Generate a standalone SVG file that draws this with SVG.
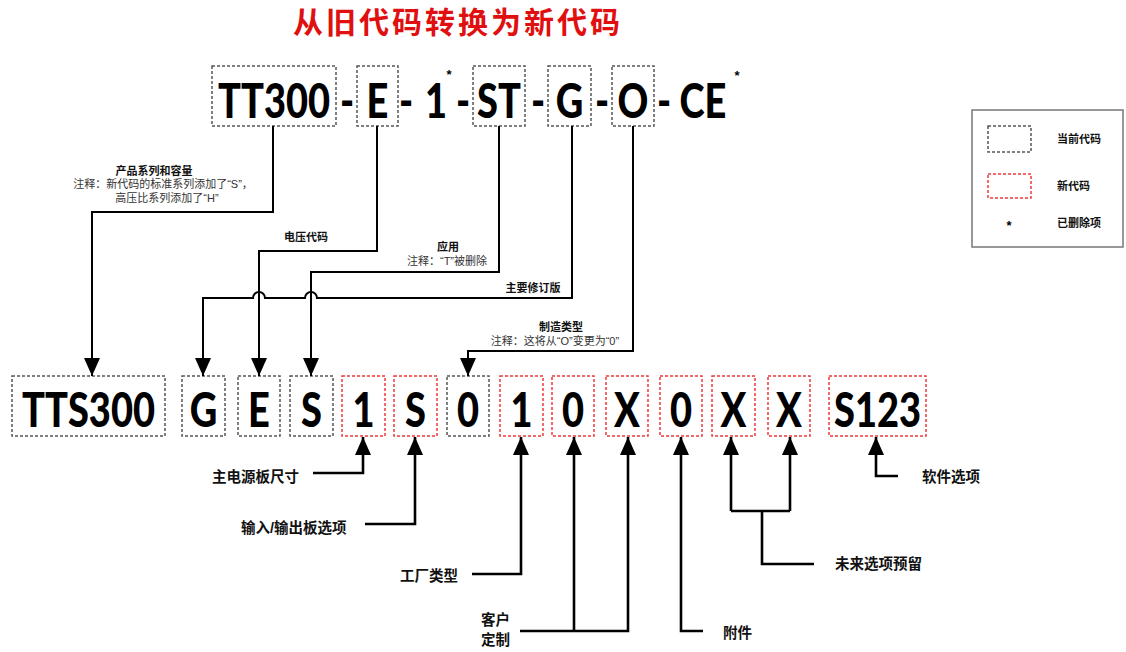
<svg xmlns="http://www.w3.org/2000/svg" width="1126" height="652" viewBox="0 0 1126 652">
<style>
.bg{fill:#fff}
.old{fill:none;stroke:#555;stroke-width:1.5;stroke-dasharray:3 2}
.new{fill:none;stroke:#f03a3a;stroke-width:1.5;stroke-dasharray:3 2}
.code{font-family:Lato,"Open Sans","Liberation Sans",sans-serif;font-weight:900;font-size:38px;fill:#000;text-anchor:middle}
.title{font-family:"Noto Sans CJK SC",sans-serif;font-weight:bold;font-size:30px;fill:#e01010;letter-spacing:3px;text-anchor:middle}
.lbl{font-family:"Liberation Sans","Noto Sans CJK SC",sans-serif;font-weight:bold;font-size:11px;fill:#111;text-anchor:middle}
.lgd{font-family:"Liberation Sans","Noto Sans CJK SC",sans-serif;font-weight:bold;font-size:11px;fill:#111}
.note{font-family:"Liberation Sans","Noto Sans CJK SC",sans-serif;font-size:11px;fill:#333;text-anchor:middle}
.blbl{font-family:"Liberation Sans","Noto Sans CJK SC",sans-serif;font-weight:bold;font-size:14.5px;fill:#111}
.ast{font-family:"Liberation Sans",sans-serif;font-weight:bold;font-size:13px;fill:#000;text-anchor:middle}
.c1{fill:none;stroke:#000;stroke-width:2}
.c2{fill:none;stroke:#000;stroke-width:2.6}
</style>
<defs>
<marker id="ah" viewBox="0 0 18 16" refX="18" refY="8" markerWidth="18" markerHeight="16" markerUnits="userSpaceOnUse" orient="auto">
<path d="M0,0 L18,8 L0,16 z" fill="#000"/>
</marker>
</defs>
<rect class="bg" x="0" y="0" width="1126" height="652"/>
<text class="title" x="458" y="33">从旧代码转换为新代码</text>

<g id="old-code">
<g id="old-TT300"><rect class="old" x="212" y="66" width="124" height="60"/><text class="code" transform="translate(274 118) scale(1 1.25)">TT300</text></g>
<text class="code" transform="translate(347 118) scale(1 1.25)">-</text>
<g id="old-E"><rect class="old" x="357" y="66" width="41" height="60"/><text class="code" transform="translate(377.5 118) scale(1 1.25)">E</text></g>
<text class="code" transform="translate(406 118) scale(1 1.25)">-</text>
<g id="old-1"><text class="code" transform="translate(436 118) scale(1 1.25)">1</text><text class="ast" x="449" y="79">*</text></g>
<text class="code" transform="translate(463 118) scale(1 1.25)">-</text>
<g id="old-ST"><rect class="old" x="473" y="66" width="52" height="60"/><text class="code" transform="translate(499 118) scale(1 1.25)">ST</text></g>
<text class="code" transform="translate(538 118) scale(1 1.25)">-</text>
<g id="old-G"><rect class="old" x="548" y="66" width="43" height="60"/><text class="code" transform="translate(569.5 118) scale(1 1.25)">G</text></g>
<text class="code" transform="translate(602 118) scale(1 1.25)">-</text>
<g id="old-O"><rect class="old" x="612" y="66" width="42" height="60"/><text class="code" transform="translate(633 118) scale(1 1.25)">O</text></g>
<text class="code" transform="translate(664 118) scale(1 1.25)">-</text>
<g id="old-CE"><text class="code" transform="translate(703 118) scale(1 1.25)">CE</text><text class="ast" x="737" y="80">*</text></g>
</g>

<g id="new-code">
<g id="new-TTS300"><rect class="old" x="12" y="376" width="153" height="60"/><text class="code" transform="translate(88.5 427) scale(1 1.25)">TTS300</text></g>
<g id="new-G"><rect class="old" x="182" y="376" width="43" height="60"/><text class="code" transform="translate(203.5 427) scale(1 1.25)">G</text></g>
<g id="new-E"><rect class="old" x="238" y="376" width="42" height="60"/><text class="code" transform="translate(259 427) scale(1 1.25)">E</text></g>
<g id="new-S"><rect class="old" x="290" y="376" width="43" height="60"/><text class="code" transform="translate(311.5 427) scale(1 1.25)">S</text></g>
<g id="new-1a"><rect class="new" x="342" y="376" width="43" height="60"/><text class="code" transform="translate(363.5 427) scale(1 1.25)">1</text></g>
<g id="new-Sb"><rect class="new" x="394" y="376" width="43" height="60"/><text class="code" transform="translate(415.5 427) scale(1 1.25)">S</text></g>
<g id="new-0a"><rect class="old" x="447" y="376" width="42" height="60"/><text class="code" transform="translate(468 427) scale(1 1.25)">0</text></g>
<g id="new-1b"><rect class="new" x="500" y="376" width="43" height="60"/><text class="code" transform="translate(521.5 427) scale(1 1.25)">1</text></g>
<g id="new-0b"><rect class="new" x="552" y="376" width="42" height="60"/><text class="code" transform="translate(573 427) scale(1 1.25)">0</text></g>
<g id="new-Xa"><rect class="new" x="606" y="376" width="42" height="60"/><text class="code" transform="translate(627 427) scale(1 1.25)">X</text></g>
<g id="new-0c"><rect class="new" x="660" y="376" width="42" height="60"/><text class="code" transform="translate(681 427) scale(1 1.25)">0</text></g>
<g id="new-Xb"><rect class="new" x="712" y="376" width="43" height="60"/><text class="code" transform="translate(733.5 427) scale(1 1.25)">X</text></g>
<g id="new-Xc"><rect class="new" x="768" y="376" width="42" height="60"/><text class="code" transform="translate(789 427) scale(1 1.25)">X</text></g>
<g id="new-S123"><rect class="new" x="829" y="376" width="97" height="60"/><text class="code" transform="translate(877.5 427) scale(1 1.25)">S123</text></g>
</g>

<g id="connectors">
<path class="c1" d="M273,126 V212 H92 V376" marker-end="url(#ah)"/>
<path class="c1" d="M377,126 V251 H259 V376" marker-end="url(#ah)"/>
<path class="c1" d="M499,126 V272 H311 V376" marker-end="url(#ah)"/>
<path class="c1" d="M572,126 V298 H317 A6,6 0 0 0 305,298 H265 A6,6 0 0 0 253,298 H203 V376" marker-end="url(#ah)"/>
<path class="c1" d="M633,126 V351 H468 V376" marker-end="url(#ah)"/>
<path class="c2" d="M313,473 H363 V437" marker-end="url(#ah)"/>
<path class="c2" d="M365,524 H415 V437" marker-end="url(#ah)"/>
<path class="c2" d="M472,574 H521 V437" marker-end="url(#ah)"/>
<path class="c2" d="M520,631 H628 V437" marker-end="url(#ah)"/>
<path class="c2" d="M574,631 V437" marker-end="url(#ah)"/>
<path class="c2" d="M703,631 H681 V437" marker-end="url(#ah)"/>
<path class="c2" d="M814,564 H762 V511"/>
<path class="c2" d="M731,511 H790"/>
<path class="c2" d="M731,511 V437" marker-end="url(#ah)"/>
<path class="c2" d="M790,511 V437" marker-end="url(#ah)"/>
<path class="c2" d="M898,476 H876 V437" marker-end="url(#ah)"/>
</g>

<g id="labels">
<text class="lbl" x="154" y="175">产品系列和容量</text>
<text class="note" x="163" y="188">注释：新代码的标准系列添加了“S”，</text>
<text class="note" x="167" y="202">高压比系列添加了“H”</text>
<text class="lbl" x="306" y="241">电压代码</text>
<text class="lbl" x="448" y="251">应用</text>
<text class="note" x="447" y="265">注释：“T”被删除</text>
<text class="lbl" x="533" y="292">主要修订版</text>
<text class="lbl" x="561" y="331">制造类型</text>
<text class="note" x="555" y="345">注释：这将从“O”变更为“0”</text>
<text class="blbl" x="212" y="482">主电源板尺寸</text>
<text class="blbl" x="241" y="533">输入/输出板选项</text>
<text class="blbl" x="400" y="581">工厂类型</text>
<text class="blbl" x="481" y="625">客户</text>
<text class="blbl" x="481" y="645">定制</text>
<text class="blbl" x="723" y="638">附件</text>
<text class="blbl" x="835" y="569">未来选项预留</text>
<text class="blbl" x="922" y="482">软件选项</text>
</g>

<g id="legend">
<rect x="972" y="110" width="151" height="137" fill="none" stroke="#777" stroke-width="1.5"/>
<rect class="old" x="988" y="126" width="43" height="26"/>
<text class="lgd" x="1057" y="143">当前代码</text>
<rect class="new" x="988" y="174" width="43" height="24"/>
<text class="lgd" x="1057" y="190">新代码</text>
<text class="ast" x="1009" y="230">*</text>
<text class="lgd" x="1057" y="227">已删除项</text>
</g>
</svg>
